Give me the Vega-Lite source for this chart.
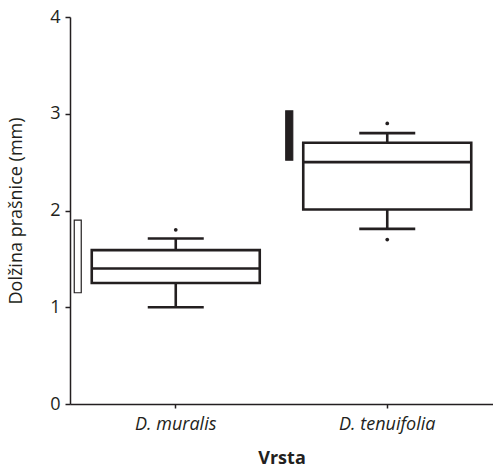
{
  "$schema": "https://vega.github.io/schema/vega-lite/v6.json",
  "autosize": {"type": "none"},
  "width": 423,
  "height": 387,
  "padding": {"left": 70, "top": 17, "right": 0, "bottom": 68},
  "background": "white",
  "config": {
    "view": {"stroke": null},
    "font": "Open Sans",
    "axis": {
      "grid": false,
      "domainColor": "#231f20",
      "domainWidth": 1.5,
      "tickColor": "#231f20",
      "tickWidth": 1.5,
      "labelColor": "#231f20",
      "titleColor": "#231f20",
      "labelFont": "Open Sans",
      "titleFont": "Open Sans",
      "labelFontSize": 18,
      "titleFontSize": 18
    }
  },
  "datasets": {
    "stats": [
      {"species": "D. muralis", "lower": 1.0, "q1": 1.25, "median": 1.4, "q3": 1.59, "upper": 1.71, "lit_min": 1.15, "lit_max": 1.9},
      {"species": "D. tenuifolia", "lower": 1.81, "q1": 2.01, "median": 2.5, "q3": 2.7, "upper": 2.8, "lit_min": 2.52, "lit_max": 3.03}
    ],
    "outliers": [
      {"species": "D. muralis", "value": 1.8},
      {"species": "D. tenuifolia", "value": 2.9},
      {"species": "D. tenuifolia", "value": 1.7}
    ]
  },
  "encoding": {
    "x": {
      "field": "species",
      "type": "nominal",
      "sort": ["D. muralis", "D. tenuifolia"],
      "scale": {"paddingInner": 0, "paddingOuter": 0},
      "axis": {
        "title": "Vrsta",
        "titleFontWeight": "bold",
        "titlePadding": 16,
        "labelAngle": 0,
        "labelFontStyle": "italic",
        "labelPadding": 7,
        "tickSize": 4
      }
    }
  },
  "layer": [
    {
      "data": {"name": "stats"},
      "mark": {"type": "bar", "size": 7, "xOffset": -98, "stroke": "#231f20", "strokeWidth": 1.2},
      "encoding": {
        "y": {
          "field": "lit_min",
          "type": "quantitative",
          "scale": {"domain": [0, 4], "nice": false, "zero": false},
          "axis": {
            "title": "Dolžina prašnice (mm)",
            "titleFontWeight": "normal",
            "values": [0, 1, 2, 3, 4],
            "format": "d",
            "tickSize": 5,
            "labelPadding": 5,
            "titlePadding": 24
          }
        },
        "y2": {"field": "lit_max"},
        "fill": {
          "field": "species",
          "type": "nominal",
          "scale": {"domain": ["D. muralis", "D. tenuifolia"], "range": ["white", "#231f20"]},
          "legend": null
        }
      }
    },
    {
      "data": {"name": "stats"},
      "mark": {"type": "rule", "color": "#231f20", "strokeWidth": 2.6},
      "encoding": {
        "y": {"field": "lower", "type": "quantitative"},
        "y2": {"field": "upper"}
      }
    },
    {
      "data": {"name": "stats"},
      "mark": {"type": "bar", "size": 168, "fill": "white", "stroke": "#231f20", "strokeWidth": 2.6},
      "encoding": {
        "y": {"field": "q1", "type": "quantitative"},
        "y2": {"field": "q3"}
      }
    },
    {
      "data": {"name": "stats"},
      "mark": {"type": "tick", "size": 168, "thickness": 2.6, "color": "#231f20", "opacity": 1},
      "encoding": {
        "y": {"field": "median", "type": "quantitative"}
      }
    },
    {
      "data": {"name": "stats"},
      "mark": {"type": "tick", "size": 56, "thickness": 2.6, "color": "#231f20", "opacity": 1},
      "encoding": {
        "y": {"field": "upper", "type": "quantitative"}
      }
    },
    {
      "data": {"name": "stats"},
      "mark": {"type": "tick", "size": 56, "thickness": 2.6, "color": "#231f20", "opacity": 1},
      "encoding": {
        "y": {"field": "lower", "type": "quantitative"}
      }
    },
    {
      "data": {"name": "outliers"},
      "mark": {"type": "point", "filled": true, "size": 14, "color": "#231f20", "opacity": 1},
      "encoding": {
        "y": {"field": "value", "type": "quantitative"}
      }
    }
  ]
}
